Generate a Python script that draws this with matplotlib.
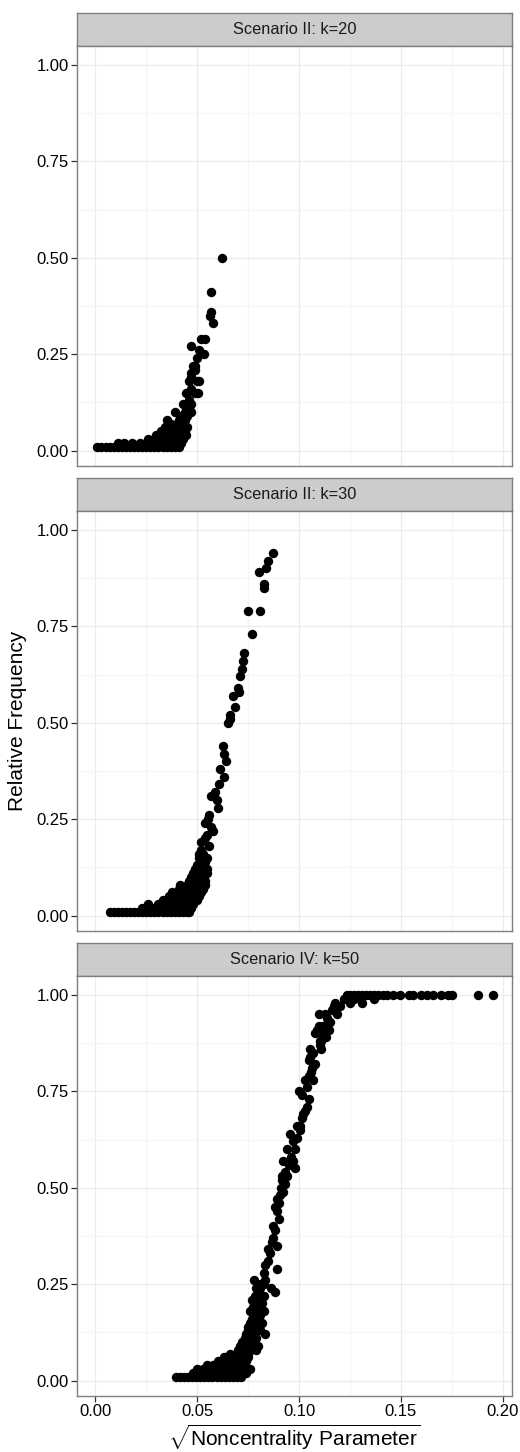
import matplotlib
matplotlib.use("Agg")
import matplotlib.pyplot as plt
import numpy as np

plt.rcParams['font.family'] = ['Liberation Sans', 'DejaVu Sans']
plt.rcParams['mathtext.fontset'] = 'custom'
plt.rcParams['mathtext.rm'] = 'Liberation Sans'

# === Data: (sqrt noncentrality, relative frequency) ===
k20_points = [
    (0.001, .01), (0.003, .01), (0.005, .01), (0.007, .01), (0.009, .01), (0.011, .01),
    (0.013, .01), (0.015, .01), (0.017, .01), (0.019, .01), (0.021, .01), (0.023, .01),
    (0.025, .01), (0.027, .01), (0.029, .01), (0.031, .01), (0.033, .01), (0.035, .01),
    (0.037, .01), (0.039, .01), (0.041, .01),
    (0.011, .02), (0.014, .02), (0.018, .02), (0.022, .02), (0.025, .02), (0.028, .02),
    (0.031, .02), (0.034, .02), (0.037, .02), (0.040, .02), (0.042, .02),
    (0.026, .03), (0.029, .03), (0.032, .03), (0.035, .03), (0.038, .03), (0.041, .03), (0.043, .03),
    (0.030, .04), (0.033, .04), (0.036, .04), (0.039, .04), (0.042, .04), (0.0445, .04),
    (0.032, .05), (0.035, .05), (0.038, .05), (0.041, .05), (0.044, .05),
    (0.034, .06), (0.037, .06), (0.040, .06), (0.043, .06), (0.045, .06),
    (0.037, .07), (0.040, .07), (0.043, .07),
    (0.035, .08), (0.041, .08), (0.044, .08),
    (0.042, .09), (0.045, .09),
    (0.039, .10), (0.044, .10), (0.047, .10),
    (0.046, .11), (0.043, .12), (0.047, .12), (0.046, .13),
    (0.0445, .15), (0.045, .15), (0.049, .15), (0.0505, .15), (0.047, .16),
    (0.046, .18), (0.050, .18), (0.051, .18), (0.047, .19), (0.047, .20), (0.049, .21),
    (0.048, .22), (0.049, .22), (0.050, .24), (0.0535, .25), (0.051, .26), (0.047, .27),
    (0.052, .29), (0.054, .29), (0.058, .33), (0.0565, .35), (0.057, .36),
    (0.0567, .41), (0.062, .50),
]

k30_points = [
    (0.007, .01), (0.009, .01), (0.011, .01), (0.013, .01), (0.015, .01), (0.017, .01),
    (0.019, .01), (0.021, .01), (0.023, .01), (0.025, .01), (0.027, .01), (0.029, .01),
    (0.031, .01), (0.033, .01), (0.035, .01), (0.037, .01), (0.039, .01), (0.041, .01),
    (0.043, .01), (0.045, .01), (0.046, .01),
    (0.0227, .02), (0.026, .02), (0.029, .02), (0.032, .02), (0.035, .02), (0.038, .02),
    (0.041, .02), (0.044, .02), (0.047, .02),
    (0.026, .03), (0.031, .03), (0.034, .03), (0.037, .03), (0.040, .03), (0.043, .03),
    (0.046, .03), (0.048, .03),
    (0.033, .04), (0.036, .04), (0.039, .04), (0.042, .04), (0.045, .04), (0.048, .04), (0.050, .04),
    (0.036, .05), (0.039, .05), (0.042, .05), (0.045, .05), (0.048, .05), (0.051, .05),
    (0.0375, .06), (0.041, .06), (0.044, .06), (0.047, .06), (0.050, .06), (0.052, .06),
    (0.041, .07), (0.044, .07), (0.047, .07), (0.050, .07), (0.053, .07),
    (0.0416, .08), (0.045, .08), (0.048, .08), (0.051, .08), (0.054, .08),
    (0.046, .09), (0.049, .09), (0.052, .09), (0.054, .09),
    (0.047, .10), (0.050, .10), (0.053, .10),
    (0.048, .11), (0.051, .11), (0.055, .11),
    (0.049, .12), (0.052, .12), (0.055, .12),
    (0.050, .13), (0.053, .13), (0.0514, .14), (0.054, .14),
    (0.051, .15), (0.0547, .15), (0.051, .16), (0.053, .16), (0.052, .17),
    (0.056, .18), (0.052, .19), (0.054, .20), (0.0547, .21), (0.058, .22),
    (0.0568, .23), (0.054, .24), (0.0555, .25), (0.056, .26), (0.0604, .28),
    (0.0596, .30), (0.0568, .31), (0.0588, .32), (0.0607, .34), (0.063, .36),
    (0.061, .38), (0.064, .40), (0.063, .42), (0.0626, .44),
    (0.065, .50), (0.066, .51), (0.066, .52), (0.0686, .54), (0.0678, .57),
    (0.0706, .58), (0.070, .59), (0.0712, .62), (0.072, .64), (0.0724, .66),
    (0.073, .68), (0.0768, .73), (0.0749, .79), (0.081, .79), (0.083, .85),
    (0.083, .86), (0.0804, .89), (0.0839, .90), (0.085, .92), (0.087, .94),
]

k50_points = [
    (0.0395, .01), (0.0415, .01), (0.0435, .01), (0.0455, .01), (0.0475, .01),
    (0.0495, .01), (0.0515, .01), (0.0535, .01), (0.0555, .01), (0.0575, .01),
    (0.0595, .01), (0.0615, .01), (0.0635, .01), (0.0655, .01), (0.0675, .01),
    (0.0695, .01), (0.0715, .01),
    (0.048, .02), (0.051, .02), (0.054, .02), (0.057, .02), (0.060, .02), (0.063, .02),
    (0.066, .02), (0.069, .02), (0.072, .02), (0.074, .02),
    (0.050, .03), (0.053, .03), (0.056, .03), (0.059, .03), (0.062, .03), (0.065, .03),
    (0.068, .03), (0.071, .03), (0.076, .03),
    (0.055, .04), (0.058, .04), (0.061, .04), (0.064, .04), (0.067, .04), (0.070, .04), (0.073, .04),
    (0.060, .05), (0.062, .05), (0.065, .05), (0.068, .05), (0.071, .05), (0.074, .05),
    (0.063, .06), (0.066, .06), (0.069, .06), (0.072, .06), (0.075, .06),
    (0.066, .07), (0.069, .07), (0.072, .07), (0.075, .07),
    (0.070, .08), (0.073, .08), (0.076, .08), (0.079, .08),
    (0.071, .09), (0.074, .09), (0.077, .09), (0.080, .09),
    (0.072, .10), (0.075, .10), (0.078, .10),
    (0.0735, .11), (0.076, .11), (0.079, .11),
    (0.074, .12), (0.077, .12), (0.0834, .12),
    (0.075, .13), (0.078, .13), (0.081, .13),
    (0.075, .14), (0.078, .14), (0.076, .15), (0.079, .15), (0.082, .15),
    (0.077, .16), (0.080, .16), (0.078, .17), (0.081, .17), (0.0826, .18),
    (0.076, .18), (0.079, .18),
    (0.0776, .19), (0.080, .19), (0.079, .20), (0.082, .20), (0.077, .21), (0.080, .21),
    (0.0785, .22), (0.0826, .22), (0.080, .23), (0.088, .23), (0.081, .24), (0.086, .24),
    (0.079, .24), (0.081, .25), (0.083, .25), (0.0834, .26), (0.078, .26), (0.0826, .28),
    (0.089, .29), (0.0834, .30), (0.085, .31), (0.0858, .33), (0.085, .34),
    (0.089, .35), (0.0867, .36), (0.087, .37), (0.088, .39), (0.087, .40),
    (0.090, .42), (0.089, .44), (0.0883, .45), (0.090, .46), (0.089, .47),
    (0.0905, .48), (0.092, .49), (0.091, .50), (0.093, .51), (0.0915, .52),
    (0.0916, .53), (0.094, .53), (0.093, .54), (0.098, .55), (0.095, .56),
    (0.092, .57), (0.097, .57), (0.096, .58), (0.094, .60), (0.098, .60),
    (0.097, .62), (0.099, .63), (0.0957, .64), (0.1006, .65), (0.099, .66),
    (0.1006, .66), (0.1014, .68), (0.102, .69), (0.103, .70), (0.104, .71),
    (0.1047, .73), (0.1014, .74), (0.0998, .75), (0.104, .76),
    (0.103, .78), (0.107, .78), (0.1047, .79), (0.106, .80), (0.1063, .81),
    (0.108, .82), (0.1047, .83), (0.1055, .84), (0.107, .85), (0.1055, .86),
    (0.111, .86), (0.1104, .87), (0.111, .88), (0.1104, .88), (0.113, .89),
    (0.108, .90), (0.111, .90), (0.1145, .91), (0.109, .91), (0.1096, .92),
    (0.1137, .92), (0.112, .92), (0.1153, .93), (0.1137, .94), (0.110, .95),
    (0.1186, .95), (0.1129, .95), (0.116, .96), (0.117, .97), (0.120, .97),
    (0.1178, .98), (0.131, .98), (0.125, .98), (0.124, .99), (0.122, .99),
    (0.127, .99), (0.137, .99),
    (0.1235, 1.0), (0.125, 1.0), (0.127, 1.0), (0.129, 1.0), (0.131, 1.0), (0.133, 1.0),
    (0.135, 1.0), (0.137, 1.0), (0.139, 1.0), (0.141, 1.0), (0.143, 1.0), (0.146, 1.0),
    (0.1498, 1.0), (0.154, 1.0), (0.156, 1.0), (0.160, 1.0), (0.163, 1.0), (0.166, 1.0),
    (0.1695, 1.0), (0.173, 1.0), (0.175, 1.0), (0.188, 1.0), (0.195, 1.0),
]

facet_labels = ["Scenario II: k=20", "Scenario II: k=30", "Scenario IV: k=50"]
facet_data = [k20_points, k30_points, k50_points]

x_ticks = [0.00, 0.05, 0.10, 0.15, 0.20]
y_ticks = [0.00, 0.25, 0.50, 0.75, 1.00]

# === Layout (pixels) ===
W, H = 520, 1452
left, width = 77, 435.3
strip_h, panel_h = 32.5, 420
strip_tops = [13.3, 478.3, 943.3]


def rect(l, t, w, h):
    return [l / W, 1 - (t + h) / H, w / W, h / H]


fig = plt.figure(figsize=(W / 100, H / 100), dpi=100)

for i, (label, pts) in enumerate(zip(facet_labels, facet_data)):
    top = strip_tops[i]
    pts = np.array(pts)

    # --- strip ---
    sax = fig.add_axes(rect(left, top, width, strip_h))
    sax.set_facecolor('#cccccc')
    sax.set_xticks([])
    sax.set_yticks([])
    for sp in sax.spines.values():
        sp.set_color('#7f7f7f')
        sp.set_linewidth(1.0)
    sax.text(0.5, 0.5, label, ha='center', va='center', fontsize=11.8,
             color='#1a1a1a', transform=sax.transAxes)

    # --- panel ---
    ax = fig.add_axes(rect(left, top + strip_h, width, panel_h))
    ax.scatter(pts[:, 0], pts[:, 1], s=46, c='black', linewidths=0, zorder=3)
    ax.set_xlim(-0.009, 0.2047)
    ax.set_ylim(-0.0395, 1.0495)

    ax.set_xticks(x_ticks)
    ax.set_xticks([0.025, 0.075, 0.125, 0.175], minor=True)
    ax.set_yticks(y_ticks)
    ax.set_yticks([0.125, 0.375, 0.625, 0.875], minor=True)
    ax.set_yticklabels([f"{v:.2f}" for v in y_ticks])
    ax.grid(which='major', color='#ebebeb', linewidth=0.9, zorder=0)
    ax.grid(which='minor', color='#f5f5f5', linewidth=0.9, zorder=0)
    ax.set_axisbelow(True)

    ax.tick_params(which='minor', length=0)
    ax.tick_params(axis='y', which='major', length=4, width=0.9, color='#333333',
                   labelsize=12, labelcolor='black', pad=2)
    if i == 2:
        ax.set_xticklabels([f"{v:.2f}" for v in x_ticks])
        ax.tick_params(axis='x', which='major', length=4, width=0.9, color='#333333',
                       labelsize=12, labelcolor='black', pad=2)
    else:
        ax.tick_params(axis='x', which='major', length=0, labelbottom=False)

    for sp in ax.spines.values():
        sp.set_color('#7f7f7f')
        sp.set_linewidth(1.0)

# === Axis titles ===
fig.text(18 / W, 1 - 720.8 / H, 'Relative Frequency', rotation=90, fontsize=15,
         ha='center', va='center')
fig.text((left + width / 2) / W, 1 - 1437 / H,
         r'$\sqrt{\mathrm{Noncentrality\ Parameter}}$', fontsize=15,
         ha='center', va='center')

fig.savefig('out.png', dpi=100)
